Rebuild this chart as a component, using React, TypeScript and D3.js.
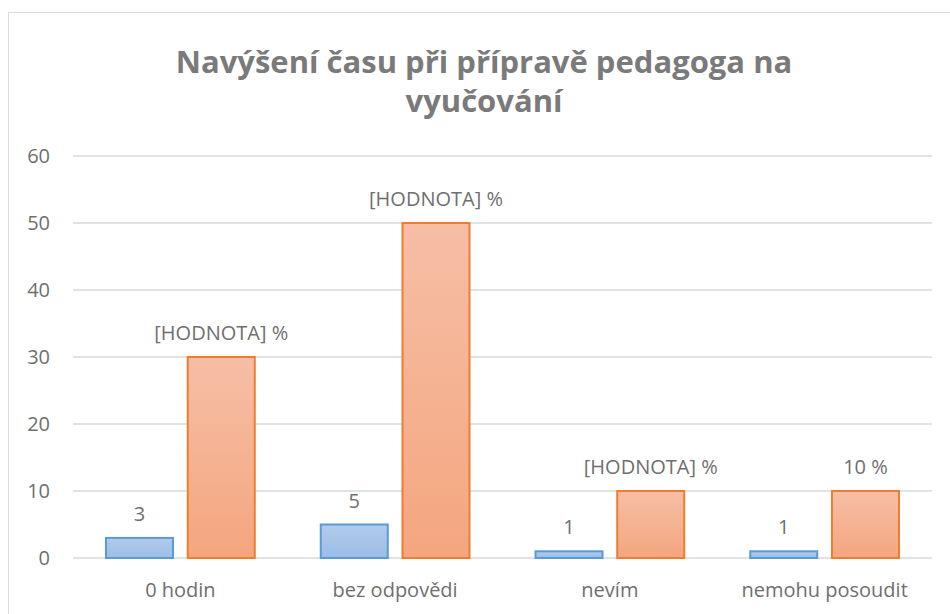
import { useEffect, useRef } from "react";
import * as d3 from "d3";

const categories = ["0 hodin", "bez odpovědi", "nevím", "nemohu posoudit"];
const countValues = [3, 5, 1, 1];
const percentValues = [30, 50, 10, 10];
const countLabels = ["3", "5", "1", "1"];
const percentLabels = ["[HODNOTA] %", "[HODNOTA] %", "[HODNOTA] %", "10 %"];
const yTicks = [0, 10, 20, 30, 40, 50, 60];
const titleLines = ["Navýšení času při přípravě pedagoga na", "vyučování"];

const App = () => {
    const ref = useRef<SVGSVGElement>(null);

    useEffect(() => {
        const root = d3.select(ref.current);
        root.selectAll("*").remove();

        const width = 950;
        const margin = { top: 156, right: 18, bottom: 56, left: 73 };
        const font = "'Open Sans', sans-serif";
        const labelSize = "20px";

        // chart frame
        root.append("rect")
            .attr("x", 8.5)
            .attr("y", 12.5)
            .attr("width", 960)
            .attr("height", 640)
            .attr("fill", "#fff")
            .attr("stroke", "#d9d9d9")
            .attr("stroke-width", 1);

        const defs = root.append("defs");
        const blueGrad = defs.append("linearGradient").attr("id", "blueGrad")
            .attr("x1", 0).attr("y1", 0).attr("x2", 0).attr("y2", 1);
        blueGrad.append("stop").attr("offset", "0%").attr("stop-color", "#b1cbeb");
        blueGrad.append("stop").attr("offset", "100%").attr("stop-color", "#9dbde6");
        const orangeGrad = defs.append("linearGradient").attr("id", "orangeGrad")
            .attr("x1", 0).attr("y1", 0).attr("x2", 0).attr("y2", 1);
        orangeGrad.append("stop").attr("offset", "0%").attr("stop-color", "#f6bea6");
        orangeGrad.append("stop").attr("offset", "100%").attr("stop-color", "#f4a67e");

        // title
        root.append("text")
            .attr("text-anchor", "middle")
            .attr("fill", "#7a7a7a")
            .attr("font-family", font)
            .attr("font-weight", "bold")
            .attr("font-size", "31px")
            .selectAll("tspan")
            .data(titleLines)
            .enter().append("tspan")
            .attr("x", 484)
            .attr("y", (_d, i) => 73 + i * 39)
            .text(d => d);

        const innerW = width - margin.left - margin.right;
        const y = d3.scaleLinear()
            .domain([0, 60])
            .range([558, 156]);

        const x0 = d3.scaleBand()
            .domain(categories)
            .range([margin.left, margin.left + innerW])
            .padding(0);

        const x1 = d3.scaleBand()
            .domain(["count", "percent"])
            .range([33, x0.bandwidth() - 33])
            .paddingInner(0.18);

        // gridlines
        root.append("g")
            .selectAll("line")
            .data(yTicks)
            .enter().append("line")
            .attr("x1", margin.left)
            .attr("x2", margin.left + innerW)
            .attr("y1", d => y(d))
            .attr("y2", d => y(d))
            .attr("stroke", "#d9d9d9")
            .attr("stroke-width", 1.3);

        // y tick labels
        root.append("g")
            .selectAll("text")
            .data(yTicks)
            .enter().append("text")
            .attr("x", 50)
            .attr("y", d => y(d))
            .attr("dy", "0.35em")
            .attr("text-anchor", "end")
            .attr("fill", "#6f6f6f")
            .attr("font-family", font)
            .attr("font-size", labelSize)
            .text(d => d);

        const rows = categories.map((c, i) => ({
            category: c,
            count: countValues[i],
            percent: percentValues[i],
            countLabel: countLabels[i],
            percentLabel: percentLabels[i],
        }));

        const groups = root.append("g")
            .selectAll("g")
            .data(rows)
            .enter().append("g")
            .attr("transform", d => `translate(${x0(d.category)},0)`);

        groups.append("rect")
            .attr("x", x1("count")!)
            .attr("width", x1.bandwidth())
            .attr("y", d => y(d.count))
            .attr("height", d => y(0) - y(d.count))
            .attr("fill", "url(#blueGrad)")
            .attr("stroke", "#5b9bd5")
            .attr("stroke-width", 2);

        groups.append("rect")
            .attr("x", x1("percent")!)
            .attr("width", x1.bandwidth())
            .attr("y", d => y(d.percent))
            .attr("height", d => y(0) - y(d.percent))
            .attr("fill", "url(#orangeGrad)")
            .attr("stroke", "#ed7d31")
            .attr("stroke-width", 2);

        // value labels
        groups.append("text")
            .attr("x", x1("count")! + x1.bandwidth() / 2)
            .attr("y", d => y(d.count) - 24)
            .attr("dy", "0.35em")
            .attr("text-anchor", "middle")
            .attr("fill", "#6f6f6f")
            .attr("font-family", font)
            .attr("font-size", labelSize)
            .text(d => d.countLabel);

        groups.append("text")
            .attr("x", x1("percent")! + x1.bandwidth() / 2)
            .attr("y", d => y(d.percent) - 24)
            .attr("dy", "0.35em")
            .attr("text-anchor", "middle")
            .attr("fill", "#6f6f6f")
            .attr("font-family", font)
            .attr("font-size", labelSize)
            .text(d => d.percentLabel);

        // x category labels
        groups.append("text")
            .attr("x", x0.bandwidth() / 2)
            .attr("y", 590)
            .attr("dy", "0.35em")
            .attr("text-anchor", "middle")
            .attr("fill", "#6f6f6f")
            .attr("font-family", font)
            .attr("font-size", labelSize)
            .text(d => d.category);
    }, []);

    return (
        <svg
            ref={ref}
            width={950}
            height={614}
            style={{ position: "absolute", left: 0, top: 0, display: "block" }}
        />
    );
};

export default App;
